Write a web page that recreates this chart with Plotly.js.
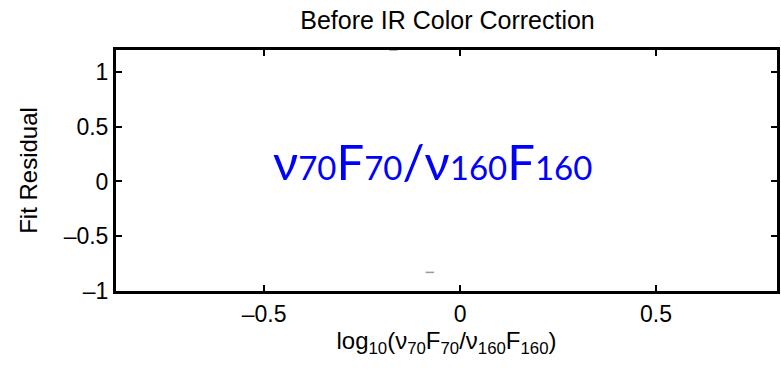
<!DOCTYPE html>
<html>
<head>
<meta charset="utf-8">
<script src="https://cdn.plot.ly/plotly-3.0.1.min.js"></script>
<style>html,body{margin:0;padding:0;background:#fff;}#chart{width:781px;height:372px;}</style>
</head>
<body>
<div id="chart"></div>
<script>
// Data (residual points, mostly off-scale)
const residX = [-0.17, -0.077];
const residY = [1.2, -0.83];
const xTickVals = [-0.5, 0, 0.5];
const xTickText = ["\u20130.5", "0", "0.5"];
const yTickVals = [-1, -0.5, 0, 0.5, 1];
const yTickText = ["\u20131", "\u20130.5", "0", "0.5", "1"];
const subStyle = "font-size:33px";
const labelText = "\u03bd<span style=\"" + subStyle + "\">70</span>F<span style=\"" + subStyle + "\">70</span>/\u03bd<span style=\"" + subStyle + "\">160</span>F<span style=\"" + subStyle + "\">160</span>";

const trace = {
  x: residX, y: residY, type: 'scatter', mode: 'markers',
  marker: {symbol: 'line-ew', size: 6, line: {color: '#999999', width: 1.5}},
  cliponaxis: false, hoverinfo: 'skip'
};

const axisFont = {family: 'Liberation Sans, Arial, sans-serif', size: 23, color: '#000'};
const layout = {
  width: 781, height: 372,
  margin: {l: 116, r: 4, t: 50, b: 81},
  paper_bgcolor: '#fff', plot_bgcolor: '#fff',
  showlegend: false,
  title: {text: 'Before IR Color Correction', font: {family: 'Liberation Sans, Arial, sans-serif', size: 25, color: '#000'}, x: 0.573, xanchor: 'center', y: 0.945, yanchor: 'middle'},
  xaxis: {
    range: [-0.878, 0.809], tickvals: xTickVals, ticktext: xTickText,
    ticks: 'inside', ticklen: 6, tickwidth: 2, tickcolor: '#000',
    showline: true, linecolor: '#000', linewidth: 3, mirror: 'ticks',
    showgrid: false, zeroline: false, tickfont: axisFont,
    title: {text: 'log<sub>10</sub>(\u03bd<sub>70</sub>F<sub>70</sub>/\u03bd<sub>160</sub>F<sub>160</sub>)', font: {family: 'Liberation Sans, Arial, sans-serif', size: 24, color: '#000'}, standoff: 2}
  },
  yaxis: {
    range: [-1, 1.2], tickvals: yTickVals, ticktext: yTickText,
    ticks: 'inside', ticklen: 6, tickwidth: 2, tickcolor: '#000',
    showline: true, linecolor: '#000', linewidth: 3, mirror: 'ticks',
    showgrid: false, zeroline: false, tickfont: axisFont,
    title: {text: 'Fit Residual', font: {family: 'Liberation Sans, Arial, sans-serif', size: 24, color: '#000'}, standoff: 20}
  },
  annotations: [{
    x: -0.07, y: 0.19, xref: 'x', yref: 'y', showarrow: false,
    text: labelText,
    font: {family: 'Lato, Open Sans, sans-serif', size: 49, color: '#0000ff'}
  }]
};
Plotly.newPlot('chart', [trace], layout, {staticPlot: true, displayModeBar: false});
</script>
</body>
</html>
